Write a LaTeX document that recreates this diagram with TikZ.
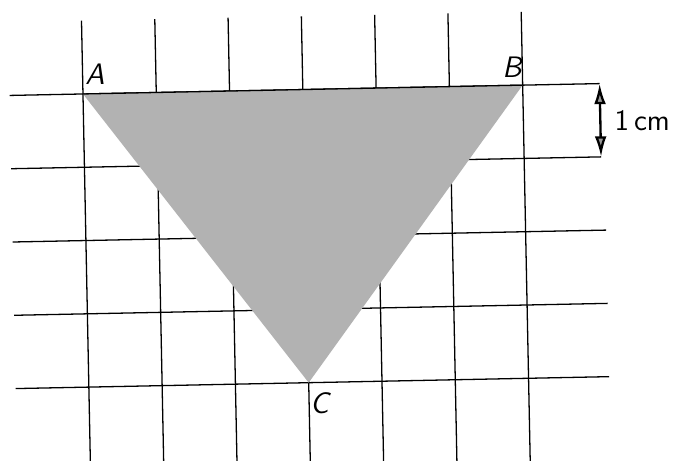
\documentclass[tikz,border=0pt]{standalone}
\usetikzlibrary{arrows.meta}
\tikzset{
  gridline/.style={line width=0.5pt},
  shade/.style={fill=black!30},
  lbl/.style={font=\sffamily\itshape\fontsize{11.5}{13}\selectfont},
  tick/.style={line width=0.9pt,{Latex[length=2.8mm,width=1.6mm,fill=black!40]}-{Latex[length=2.8mm,width=1.6mm,fill=black!40]}}
}
\begin{document}
\begin{tikzpicture}
  \clip (-1.132,-5.007) rectangle (8.063,1.282);
  \fill[white] (-1.132,-5.007) rectangle (8.063,1.282);
  \begin{scope}[rotate=1.15]
    \coordinate (A) at (0,0);
    \coordinate (B) at (6,0);
    \coordinate (C) at (3,-4);
    \coordinate (top) at (7.05,0);
    \coordinate (bot) at (7.05,-1);
    % horizontal lines
    \draw[gridline] (-1,0)--(top);
    \draw[gridline] (-1,-1)--(bot);
    \draw[gridline] (-1,-2)--(7.1,-2);
    \draw[gridline] (-1,-3)--(7.1,-3);
    \draw[gridline] (-1,-4)--(7.1,-4);
    % vertical lines
    \draw[gridline] (0,1)--(0,-5.3);
    \draw[gridline] (1,1)--(1,-5.3);
    \draw[gridline] (2,1)--(2,-5.3);
    \draw[gridline] (3,1)--(3,-5.3);
    \draw[gridline] (4,1)--(4,-5.3);
    \draw[gridline] (5,1)--(5,-5.3);
    \draw[gridline] (6,1)--(6,-5.3);
    \fill[shade] (A)--(B)--(C)--cycle;
    \draw[gridline] (A)--(B);
    \draw[tick] (top)--(bot);
    \node[lbl] (a) at (0.17,0.27) {A};
    \node[lbl] (b) at (5.86,0.25) {B};
    \node[lbl] (c) at (3.14,-4.28) {C};
    \node[font=\sffamily\fontsize{11.5}{13}\selectfont,anchor=west] (unit) at (7.12,-0.5) {1\,cm};
  \end{scope}
\end{tikzpicture}
\end{document}
